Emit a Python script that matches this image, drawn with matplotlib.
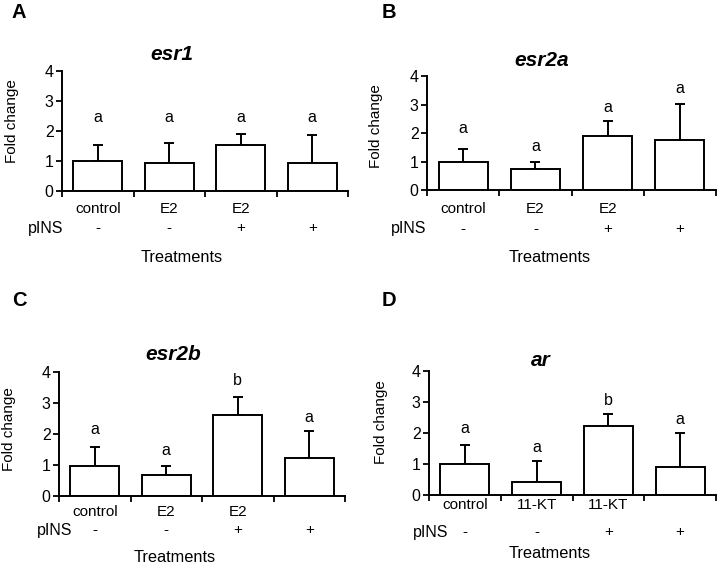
import matplotlib.pyplot as plt
import matplotlib.transforms as mtransforms

plt.rcParams['font.family'] = ['Liberation Sans', 'DejaVu Sans']

# data
genes = ["esr1", "esr2a", "esr2b", "ar"]
panel_tags = ["A", "B", "C", "D"]
treat_e2 = ["control", "E2", "E2", ""]
treat_kt = ["control", "11-KT", "11-KT", ""]
pins = ["-", "-", "+", "+"]

esr1_mean = [1.01, 0.93, 1.54, 0.93]
esr1_err = [0.51, 0.66, 0.37, 0.93]
esr1_sig = ["a", "a", "a", "a"]
esr1_sig_y = [2.45, 2.45, 2.45, 2.45]

esr2a_mean = [0.99, 0.73, 1.91, 1.75]
esr2a_err = [0.47, 0.26, 0.50, 1.28]
esr2a_sig = ["a", "a", "a", "a"]
esr2a_sig_y = [2.15, 1.52, 2.90, 3.56]

esr2b_mean = [0.98, 0.69, 2.60, 1.21]
esr2b_err = [0.60, 0.29, 0.60, 0.88]
esr2b_sig = ["a", "a", "b", "a"]
esr2b_sig_y = [2.13, 1.48, 3.72, 2.52]

ar_mean = [1.00, 0.41, 2.24, 0.91]
ar_err = [0.62, 0.70, 0.38, 1.08]
ar_sig = ["a", "a", "b", "a"]
ar_sig_y = [2.15, 1.54, 3.05, 2.44]

means = [esr1_mean, esr2a_mean, esr2b_mean, ar_mean]
errs = [esr1_err, esr2a_err, esr2b_err, ar_err]
sigs = [esr1_sig, esr2a_sig, esr2b_sig, ar_sig]
sig_ys = [esr1_sig_y, esr2a_sig_y, esr2b_sig_y, ar_sig_y]
treats = [treat_e2, treat_e2, treat_e2, treat_kt]

W, H = 718, 564
FS = 11.5
# layout in pixels: axes box, title, y label, panel tag, label rows, pINS right edge, Treatments x
layout = [
    dict(l=62, r=348, y0=191, y4=70.7, tx=172, ty=55, lx=12, ly=121, gx=11, gy=12,
         r1=209, r2=228, r3=257, px=63, cx=182),
    dict(l=427, r=716, y0=190.3, y4=76, tx=542, ty=60, lx=376, ly=126, gx=382, gy=12,
         r1=209, r2=229, r3=257, px=426, cx=550),
    dict(l=59, r=345, y0=496, y4=372, tx=173, ty=354, lx=9, ly=429, gx=12, gy=301,
         r1=512, r2=530, r3=557, px=72, cx=175),
    dict(l=429, r=716, y0=495, y4=371, tx=541, ty=360, lx=381, ly=422, gx=382, gy=301,
         r1=505, r2=532, r3=554, px=448, cx=550),
]

fig = plt.figure(figsize=(W / 100, H / 100), dpi=100)

def fy(py):
    return 1 - py / H

for i in range(4):
    L = layout[i]
    ax = fig.add_axes([L["l"] / W, fy(L["y0"]), (L["r"] - L["l"]) / W, (L["y0"] - L["y4"]) / H])
    x = [1, 2, 3, 4]
    ax.bar(x, means[i], width=0.68, color="white", edgecolor="black", linewidth=1.4, zorder=2)
    ax.errorbar(x, means[i], yerr=[[0] * 4, errs[i]], fmt="none", ecolor="black",
                elinewidth=1.4, capsize=3.5, capthick=1.4, zorder=1)
    for xi, s, sy in zip(x, sigs[i], sig_ys[i]):
        ax.text(xi, sy, s, ha="center", va="center", fontsize=FS)
    ax.set_xlim(0.5, 4.5)
    ax.set_ylim(0, 4)
    ax.set_yticks([0, 1, 2, 3, 4])
    ax.set_xticks([0.5, 1.5, 2.5, 3.5, 4.5])
    ax.set_xticklabels([])
    ax.tick_params(axis="y", direction="out", length=4, width=1.3, labelsize=FS, pad=2)
    ax.tick_params(axis="x", direction="out", length=4, width=1.3)
    for side in ["top", "right"]:
        ax.spines[side].set_visible(False)
    for side in ["left", "bottom"]:
        ax.spines[side].set_linewidth(1.4)

    tr = mtransforms.blended_transform_factory(ax.transData, fig.transFigure)
    for xi, t, p in zip(x, treats[i], pins):
        ax.text(xi, fy(L["r1"]), t, transform=tr, ha="center", va="center", fontsize=11)
        ax.text(xi, fy(L["r2"]), p, transform=tr, ha="center", va="center", fontsize=11)
    fig.text(L["px"] / W, fy(L["r2"]), "pINS", ha="right", va="center", fontsize=11.5)
    fig.text(L["cx"] / W, fy(L["r3"]), "Treatments", ha="center", va="center", fontsize=11.8)
    fig.text(L["tx"] / W, fy(L["ty"]), genes[i], ha="center", va="center",
             fontsize=15, fontweight="bold", fontstyle="italic")
    fig.text(L["lx"] / W, fy(L["ly"]), "Fold change", ha="center", va="center",
             rotation=90, fontsize=11)
    fig.text(L["gx"] / W, fy(L["gy"]), panel_tags[i], ha="left", va="center",
             fontsize=14.5, fontweight="bold")

fig.savefig("out.png", dpi=100)
